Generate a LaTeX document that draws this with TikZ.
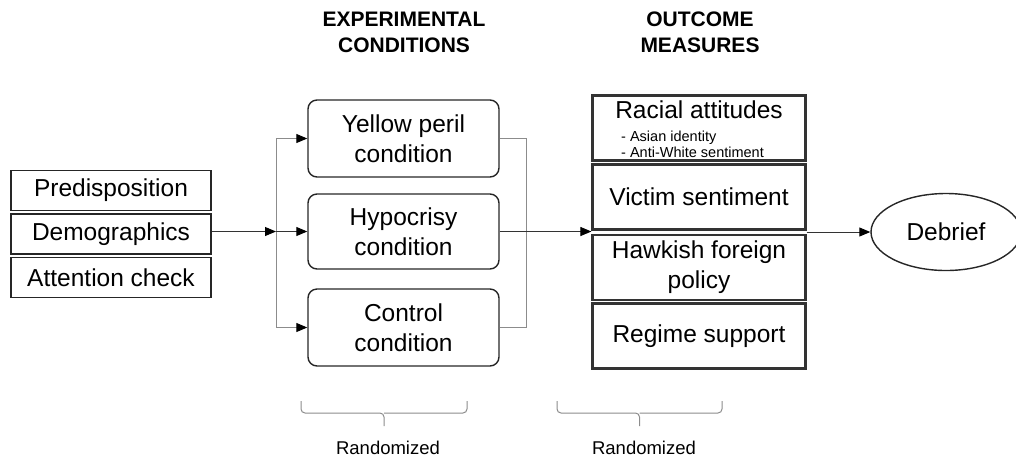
\documentclass[tikz,border=0pt]{standalone}
\usepackage{fontspec}
\setmainfont{Liberation Sans}
\usetikzlibrary{arrows.meta,shapes.geometric}
\begin{document}
\begin{tikzpicture}[x=1pt,y=-1pt,
  big/.style={font=\fontsize{24.5}{30}\selectfont},
  leftbox/.style={draw=black!85,line width=1.6pt,minimum width=200pt,minimum height=40pt,inner sep=0pt,big},
  condbox/.style={draw=black!85,line width=1.4pt,rounded corners=9pt,minimum width=191pt,inner sep=0pt,align=center,big},
  outbox/.style={draw=black!80,line width=2.2pt,minimum width=213pt,minimum height=65pt,inner sep=0pt,align=center,big},
  header/.style={font=\fontsize{21}{26}\selectfont\bfseries,align=center},
  randlabel/.style={font=\fontsize{18.5}{22}\selectfont,anchor=base},
  tip/.style={-{Triangle[length=11pt,width=9pt,color=black,fill=black]}},
  branch/.style={draw=black!45,line width=1pt},
  mainline/.style={draw=black!80,line width=1pt},
  bracepath/.style={draw=black!45,line width=1pt,rounded corners=4pt}
]
\useasboundingbox (0,0) rectangle (1016,459);

% headers
\node[header] (h1) at (404,32) {EXPERIMENTAL\\CONDITIONS};
\node[header] (h2) at (700,32) {OUTCOME\\MEASURES};

% left boxes
\node[leftbox] (pre) at (111,190.5) {Predisposition};
\node[leftbox] (demo) at (111,234) {Demographics};
\node[leftbox] (att) at (111,277.5) {Attention check};

% conditions
\node[condbox,minimum height=77pt] (yellow) at (403.5,138.5) {Yellow peril\\condition};
\node[condbox,minimum height=75pt] (hyp) at (403.5,231.5) {Hypocrisy\\condition};
\node[condbox,minimum height=77pt] (control) at (403.5,327.5) {Control\\condition};

% outcomes
\node[outbox] (racial) at (699,128) {};
\node[big,anchor=base] (racialtxt) at (699,118) {Racial attitudes};
\node[font=\fontsize{14.5}{16.5}\selectfont,align=left,anchor=west,inner sep=0pt] (subs) at (621,144.5) {- Asian identity\\- Anti-White sentiment};
\node[outbox] (victim) at (699,197) {Victim sentiment};
\node[outbox] (hawk) at (699,267.5) {Hawkish foreign\\policy};
\node[outbox] (regime) at (699,336) {Regime support};

% debrief
\node[ellipse,draw=black!85,line width=1.4pt,minimum width=150pt,minimum height=77pt,inner sep=0pt,big] (debrief) at (946,232) {Debrief};

% split coordinates
\coordinate (lx) at (276,231.5);
\coordinate (rx) at (526,231.5);

% left branching
\draw[mainline,tip] (demo.east |- lx) -- (lx);
\draw[branch] (yellow.west -| lx) -- (control.west -| lx);
\draw[branch,tip] (yellow.west -| lx) -- (yellow.west);
\draw[mainline,tip] (lx) -- (hyp.west);
\draw[branch,tip] (control.west -| lx) -- (control.west);

% right merging
\draw[branch] (yellow.east) -- (yellow.east -| rx) -- (control.east -| rx) -- (control.east);
\draw[mainline,tip] (hyp.east) -- (hyp.east -| victim.west);
\draw[mainline,tip] (debrief.west -| victim.east) -- (debrief.west);

% braces
\coordinate (b1) at (384,413);
\draw[bracepath] (301,401) -- (301,413) -- (b1) -- (384,426);
\draw[bracepath] (467,401) -- (467,413) -- (b1);
\node[randlabel] (r1) at (388,454) {Randomized};
\coordinate (b2) at (639.5,413);
\draw[bracepath] (557,401) -- (557,413) -- (b2) -- (639.5,426);
\draw[bracepath] (722,401) -- (722,413) -- (b2);
\node[randlabel] (r2) at (644,454) {Randomized};
\end{tikzpicture}
\end{document}
